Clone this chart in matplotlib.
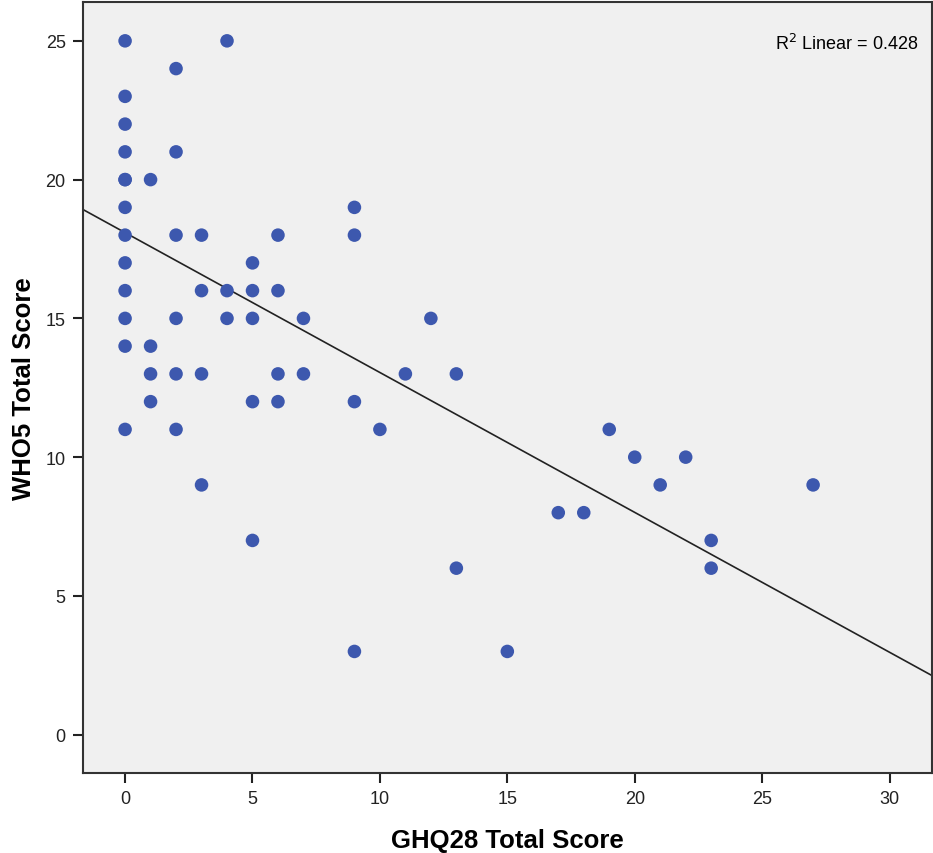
import numpy as np
import matplotlib.pyplot as plt

plt.rcParams['font.family'] = ['Liberation Sans', 'DejaVu Sans']

# GHQ28 total score (x) and WHO5 total score (y)
ghq28 = [0, 0, 0, 0, 0, 0, 0, 0, 0, 0, 0, 0, 0,
         1, 1, 1, 1,
         2, 2, 2, 2, 2, 2,
         3, 3, 3, 3,
         4, 4, 4,
         5, 5, 5, 5, 5,
         6, 6, 6, 6,
         7, 7,
         9, 9, 9, 9,
         10, 11, 12, 13, 13, 15, 17, 18, 19, 20, 21, 22, 23, 23, 27]
who5 = [25, 23, 22, 21, 20, 20, 19, 18, 17, 16, 15, 14, 11,
        20, 14, 13, 12,
        24, 21, 18, 15, 13, 11,
        18, 16, 13, 9,
        25, 16, 15,
        17, 16, 15, 12, 7,
        18, 16, 13, 12,
        15, 13,
        19, 18, 12, 3,
        11, 13, 15, 13, 6, 3, 8, 8, 11, 10, 9, 10, 7, 6, 9]

# fit line as reported in the chart
fit_intercept = 18.09
fit_slope = -0.504
r2_label = 'R$^2$ Linear = 0.428'

fig = plt.figure(figsize=(9.33, 8.54), dpi=100)
ax = fig.add_axes([0.089, 0.094, 0.9095, 0.9025])
ax.set_facecolor('#f0f0f0')

ax.scatter(ghq28, who5, s=95, color='#3d58ae', edgecolors='none', zorder=3)

xlim = (-1.65, 31.65)
ax.set_xlim(xlim)
ax.set_ylim(-1.37, 26.4)
xx = np.array(xlim)
ax.plot(xx, fit_intercept + fit_slope * xx, color='#222222', lw=1.2, zorder=2)

ax.set_xticks(range(0, 31, 5))
ax.set_yticks(range(0, 26, 5))
ax.tick_params(direction='out', length=7.5, width=1.5, labelsize=13,
               colors='#222222', pad=5)
for s in ax.spines.values():
    s.set_color('#333333')
    s.set_linewidth(1.5)

ax.set_xlabel('GHQ28 Total Score', fontsize=18.5, fontweight='bold', labelpad=15)
ax.set_ylabel('WHO5 Total Score', fontsize=18.5, fontweight='bold', labelpad=7)

ax.text(0.985, 0.947, r2_label, transform=ax.transAxes, ha='right',
        va='center', fontsize=13)

fig.savefig('out.png', dpi=100)
